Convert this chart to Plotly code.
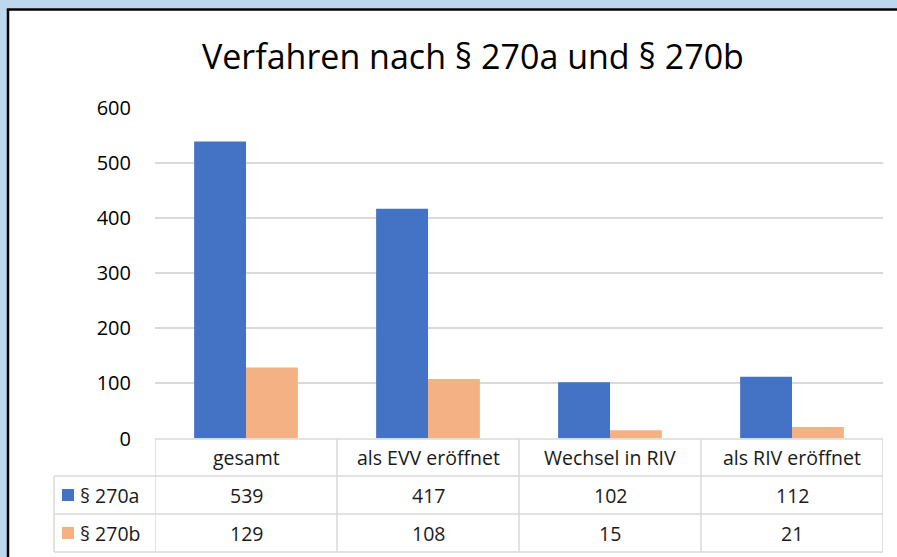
import plotly.graph_objects as go

categories = ["gesamt", "als EVV eröffnet", "Wechsel in RIV", "als RIV eröffnet"]
series_names = ["§ 270a", "§ 270b"]
values_a = [539, 417, 102, 112]
values_b = [129, 108, 15, 21]
y_ticks = [0, 100, 200, 300, 400, 500, 600]
title_text = "Verfahren nach § 270a und § 270b"

colors = ["#4472C4", "#F4B183"]
W, H = 897, 557
FONT = "Open Sans, Lato, sans-serif"
GRID = "#D9D9D9"

def px(x):
    return x / W

def py(y):
    return 1 - y / H

fig = go.Figure()
for name, vals, col in zip(series_names, [values_a, values_b], colors):
    fig.add_trace(go.Bar(x=categories, y=vals, name=name, marker_color=col,
                         marker_line_width=0, showlegend=False, hoverinfo="skip"))

shapes = []
annotations = []

# background frame
shapes.append(dict(type="rect", xref="paper", yref="paper", x0=0, x1=px(8), y0=0, y1=1,
                   fillcolor="#BDD7EE", line_width=0, layer="below"))
shapes.append(dict(type="rect", xref="paper", yref="paper", x0=0, x1=1, y0=py(8.5), y1=1,
                   fillcolor="#BDD7EE", line_width=0, layer="below"))
shapes.append(dict(type="line", xref="paper", yref="paper", x0=px(8), x1=px(8), y0=0, y1=py(9.5),
                   line=dict(color="#000000", width=2.5)))
shapes.append(dict(type="line", xref="paper", yref="paper", x0=px(6.8), x1=1, y0=py(9.5), y1=py(9.5),
                   line=dict(color="#000000", width=2.5)))

# data table
row_lines = [439, 476, 514, 552]
n = len(categories)
left_col = px(54)
for i, yl in enumerate(row_lines):
    if i == 0:
        shapes.append(dict(type="line", xref="x", yref="paper", x0=-0.5, x1=n - 0.5,
                           y0=py(yl), y1=py(yl), line=dict(color=GRID, width=1.5)))
    else:
        shapes.append(dict(type="line", xref="paper", yref="paper", x0=left_col, x1=px(883),
                           y0=py(yl), y1=py(yl), line=dict(color=GRID, width=1.5)))
for k in range(n + 1):
    shapes.append(dict(type="line", xref="x", yref="paper", x0=k - 0.5, x1=k - 0.5,
                       y0=py(row_lines[0]), y1=py(row_lines[-1]), line=dict(color=GRID, width=1.5)))
shapes.append(dict(type="line", xref="paper", yref="paper", x0=left_col, x1=left_col,
                   y0=py(row_lines[1]), y1=py(row_lines[-1]), line=dict(color=GRID, width=1.5)))

tfont = dict(family=FONT, size=19.5, color="#1a1a1a")
for j, cat in enumerate(categories):
    annotations.append(dict(x=j, y=py((row_lines[0] + row_lines[1]) / 2), xref="x", yref="paper",
                            text=cat, showarrow=False, font=tfont, xanchor="center", yanchor="middle"))
for r, (name, vals, col) in enumerate(zip(series_names, [values_a, values_b], colors)):
    yc = (row_lines[r + 1] + row_lines[r + 2]) / 2
    for j, v in enumerate(vals):
        annotations.append(dict(x=j, y=py(yc), xref="x", yref="paper", text=str(v),
                                showarrow=False, font=tfont, xanchor="center", yanchor="middle"))
    shapes.append(dict(type="rect", xref="paper", yref="paper", x0=px(62), x1=px(74),
                       y0=py(yc + 6), y1=py(yc - 6), fillcolor=col, line_width=0))
    annotations.append(dict(x=px(78), y=py(yc), xref="paper", yref="paper", text=name,
                            showarrow=False, font=tfont, xanchor="left", yanchor="middle"))

# title
annotations.append(dict(x=px(473), y=py(56), xref="paper", yref="paper", text=title_text,
                        showarrow=False, font=dict(family=FONT, size=34, color="#000000"),
                        xanchor="center", yanchor="middle"))

fig.update_layout(
    width=W, height=H,
    margin=dict(l=0, r=0, t=0, b=0, autoexpand=False),
    paper_bgcolor="white", plot_bgcolor="white",
    barmode="group", bargap=0.43, bargroupgap=0,
    xaxis=dict(domain=[px(155), px(883)], range=[-0.5, n - 0.5], showticklabels=False,
               showgrid=False, zeroline=False, showline=False, ticks="", automargin=False),
    yaxis=dict(domain=[py(438.5), py(108)], range=[0, 600], tickvals=y_ticks, automargin=False,
               showgrid=True, gridcolor=GRID, gridwidth=1.5, zeroline=False, showline=False,
               tickfont=dict(family=FONT, size=20, color="#000000"), ticklabelstandoff=23),
    shapes=shapes, annotations=annotations,
)

fig.write_html("out.html", config={"displayModeBar": False},
               post_script="document.body.style.margin='0';document.body.style.overflow='hidden';")
